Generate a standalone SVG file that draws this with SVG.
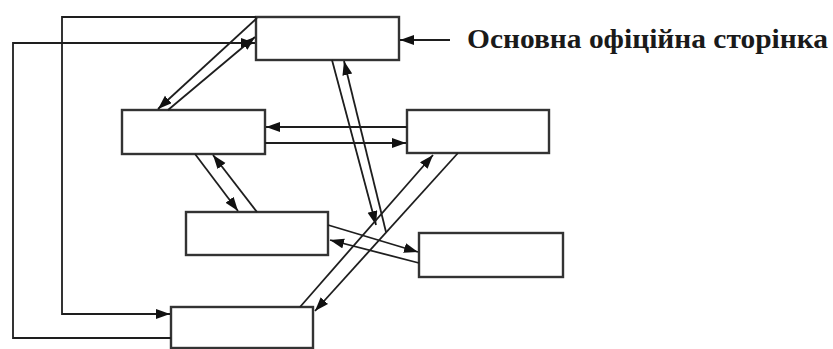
<svg xmlns="http://www.w3.org/2000/svg" width="833" height="349" viewBox="0 0 833 349">
<style>
.box{fill:#fff;stroke:#333;stroke-width:2.4}
.ln{fill:none;stroke:#1e1e1e;stroke-width:1.8;marker-end:url(#ah)}
.lbl{font-family:"Liberation Serif","DejaVu Serif",serif;font-weight:bold;font-size:28px;fill:#1a1a1a}
</style>
<defs>
<marker id="ah" markerUnits="userSpaceOnUse" markerWidth="16" markerHeight="12" refX="14" refY="5" orient="auto">
<path d="M0,0 L14,5 L0,10 z" fill="#111"/>
</marker>
</defs>
<rect width="833" height="349" fill="#fff"/>
<g id="nodeA"><rect class="box" x="256" y="17" width="143" height="43"/></g>
<g id="nodeB"><rect class="box" x="122" y="110" width="143" height="44"/></g>
<g id="nodeC"><rect class="box" x="407" y="110" width="142" height="43"/></g>
<g id="nodeD"><rect class="box" x="186" y="212" width="142" height="43"/></g>
<g id="nodeE"><rect class="box" x="419" y="233" width="144" height="44"/></g>
<g id="nodeF"><rect class="box" x="171" y="307" width="142" height="41"/></g>
<g id="label"><text class="lbl" x="467" y="48" textLength="361" lengthAdjust="spacingAndGlyphs">Основна офіційна сторінка</text></g>
<g id="connectors">
<path class="ln" d="M257,18 L158,109"/>
<path class="ln" d="M168,110 L255,37"/>
<path class="ln" d="M171,338 H13 V43 H255"/>
<path class="ln" d="M256,17 H62 V314 H170"/>
<path class="ln" d="M450,40 H400"/>
<path class="ln" d="M407,127 H266"/>
<path class="ln" d="M265,143 H406"/>
<path class="ln" d="M332,60 L376,225"/>
<path class="ln" d="M386,232 L344,61"/>
<path class="ln" d="M195,154 L238,211"/>
<path class="ln" d="M257,212 L213,155"/>
<path class="ln" d="M328,225 L418,252"/>
<path class="ln" d="M419,263 L330,240"/>
<path class="ln" d="M300,307 L433,155"/>
<path class="ln" d="M458,153 L315,311"/>
</g>
</svg>
